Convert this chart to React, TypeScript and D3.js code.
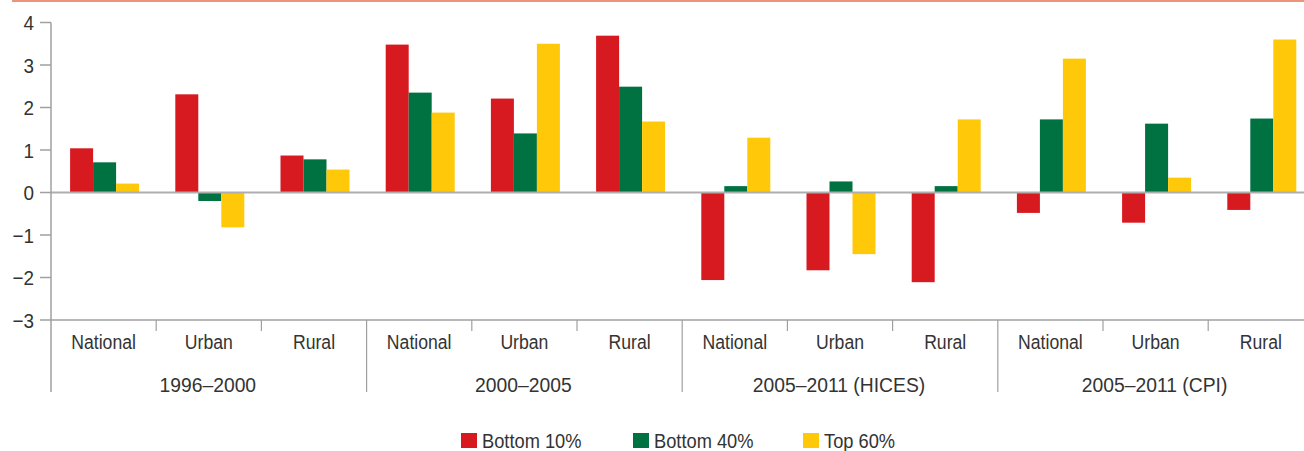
import React from "react";
import * as d3 from "d3";

const periods = ["1996–2000", "2000–2005", "2005–2011 (HICES)", "2005–2011 (CPI)"];
const areas = ["National", "Urban", "Rural"];
const seriesNames = ["Bottom 10%", "Bottom 40%", "Top 60%"];
const seriesColors = ["#D71920", "#007140", "#FFC90A"];

const bottom10 = [1.04, 2.31, 0.87, 3.48, 2.21, 3.69, -2.06, -1.83, -2.11, -0.48, -0.71, -0.41];
const bottom40 = [0.71, -0.2, 0.78, 2.35, 1.39, 2.49, 0.15, 0.26, 0.15, 1.72, 1.62, 1.74];
const top60 = [0.21, -0.82, 0.54, 1.88, 3.5, 1.67, 1.29, -1.45, 1.72, 3.15, 0.35, 3.6];
const yTicks = [-3, -2, -1, 0, 1, 2, 3, 4];

const W = 1304;
const H = 451;
const FONT = "'Liberation Sans', Arial, sans-serif";
const TEXT = "#333333";
const AXIS = "#A0A0A0";

function T(props: {
  x: number;
  y: number;
  anchor?: "start" | "middle" | "end";
  size?: number;
  sx?: number;
  dy?: string;
  children: React.ReactNode;
}) {
  const { x, y, anchor = "start", size = 21, sx = 0.84, dy, children } = props;
  return (
    <text
      transform={`translate(${x},${y}) scale(${sx},1)`}
      textAnchor={anchor}
      fontSize={size}
      dy={dy}
      fill={TEXT}
    >
      {children}
    </text>
  );
}

export default function App() {
  const left = 51;
  const step = 105.2;
  const cats = d3.range(12);
  const x0 = d3.scaleBand<number>().domain(cats).range([left, left + step * 12]).padding(0);
  const barW = 23;
  const x1 = d3
    .scaleBand<number>()
    .domain([0, 1, 2])
    .range([(x0.bandwidth() - barW * 3) / 2 + 1, (x0.bandwidth() + barW * 3) / 2 + 1])
    .padding(0);
  const y = d3.scaleLinear().domain([-3, 4]).range([320, 22.5]);
  const series = [bottom10, bottom40, top60];
  const axisY = 320;
  const groupBottom = 392;

  return (
    <svg
      width={W}
      height={H}
      style={{ position: "absolute", left: 0, top: 0, background: "#fff" }}
      fontFamily={FONT}
    >
      <rect x={12} y={0} width={W - 12} height={2} fill="#EC9479" />

      {/* bars */}
      {series.map((vals, si) =>
        vals.map((v, ci) => (
          <rect
            key={`${si}-${ci}`}
            x={(x0(ci) as number) + (x1(si) as number)}
            y={y(Math.max(0, v))}
            width={x1.bandwidth()}
            height={Math.abs(y(v) - y(0))}
            fill={seriesColors[si]}
          />
        ))
      )}

      {/* zero line */}
      <line x1={left} x2={W} y1={y(0)} y2={y(0)} stroke="#AEAEAE" strokeWidth={2} />

      {/* y axis */}
      <line x1={left} x2={left} y1={y(4)} y2={groupBottom} stroke={AXIS} strokeWidth={1.5} />
      {yTicks.map((t) => (
        <g key={t}>
          <line x1={left - 11} x2={left} y1={y(t)} y2={y(t)} stroke={AXIS} strokeWidth={1.5} />
          <T x={34} y={y(t)} dy="0.36em" anchor="end" sx={0.9}>
            {t < 0 ? `−${Math.abs(t)}` : String(t)}
          </T>
        </g>
      ))}

      {/* x axis */}
      <line x1={left} x2={W} y1={axisY} y2={axisY} stroke={AXIS} strokeWidth={1.5} />
      {cats.map((c) => {
        const xs = x0(c) as number;
        const isGroup = c % 3 === 0;
        return (
          <g key={c}>
            {c > 0 && (
              <line
                x1={xs}
                x2={xs}
                y1={axisY}
                y2={isGroup ? groupBottom : axisY + 11}
                stroke={AXIS}
                strokeWidth={1.2}
              />
            )}
            <T x={xs + x0.bandwidth() / 2} y={349} anchor="middle">
              {areas[c % 3]}
            </T>
          </g>
        );
      })}
      {periods.map((p, gi) => (
        <T key={p} x={(x0(gi * 3) as number) + (x0.step() * 3) / 2 - 1} y={392} anchor="middle" sx={0.92}>
          {p}
        </T>
      ))}

      {/* legend */}
      {seriesNames.map((n, i) => {
        const lx = [461, 633, 803][i];
        return (
          <g key={n}>
            <rect x={lx} y={433} width={16} height={15} fill={seriesColors[i]} />
            <T x={lx + 21} y={448} sx={0.87}>
              {n}
            </T>
          </g>
        );
      })}
    </svg>
  );
}
